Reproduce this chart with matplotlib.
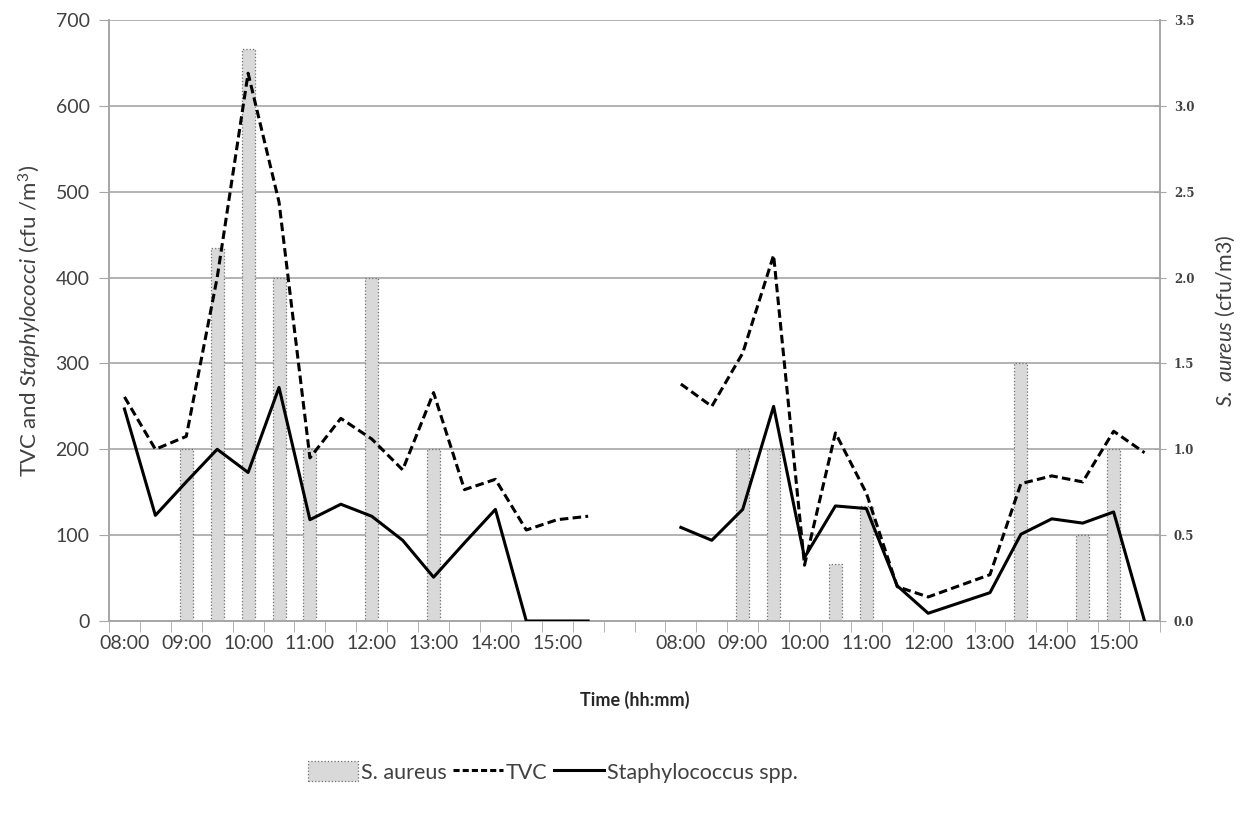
import numpy as np
import matplotlib
matplotlib.use('Agg')
import matplotlib.pyplot as plt
from matplotlib.patches import Patch
from matplotlib.lines import Line2D

# hourly labels, readings every half hour from 08:00 to 15:30 on two days
hours = ['08:00', '09:00', '10:00', '11:00', '12:00', '13:00', '14:00', '15:00']

tvc_day1 = [261, 200, 215, 400, 638, 488, 190, 236, 212, 176, 266, 153, 165, 106, 118, 122]
staph_day1 = [247, 123, 162, 200, 173, 272, 118, 136, 122, 94, 51, 91, 130, 0, 0, 0]
aureus_day1 = [0, 0, 1.0, 2.17, 3.33, 2.0, 1.0, 0, 2.0, 0, 1.0, 0, 0, 0, 0, 0]

tvc_day2 = [276, 250, 312, 426, 65, 219, 149, 40, 28, 41, 54, 160, 169, 162, 221, 196]
staph_day2 = [109, 94, 130, 250, 74, 134, 131, 41, 9, 21, 33, 101, 119, 114, 127, 0]
aureus_day2 = [0, 0, 1.0, 1.0, 0, 0.33, 0.67, 0, 0, 0, 0, 1.5, 0, 0.5, 1.0, 0]

n_gap = 2  # empty slots between the two days
gap = [np.nan] * n_gap
tvc = np.array(tvc_day1 + gap + tvc_day2, dtype=float)
staph = np.array(staph_day1 + gap + staph_day2, dtype=float)
aureus = np.array(aureus_day1 + [0] * n_gap + aureus_day2, dtype=float)
x = np.arange(len(tvc))

plt.rcParams['font.family'] = ['Lato', 'DejaVu Sans']
plt.rcParams['mathtext.fontset'] = 'custom'
plt.rcParams['mathtext.rm'] = 'Lato'
plt.rcParams['mathtext.it'] = 'Lato:italic'

grey = '#404040'
axis_grey = '#a6a6a6'

fig = plt.figure(figsize=(12.5, 8.14), dpi=100)
ax = fig.add_axes([109 / 1250, 1 - 621 / 814, (1160 - 109) / 1250, (621 - 20) / 814])
ax2 = ax.twinx()

# bars on the right axis, kept behind the lines
ax2.bar(x, aureus, width=0.42, color='#d9d9d9', edgecolor='#6f6f6f',
        linewidth=0.9, linestyle=':', zorder=2)
ax2.set_ylim(0, 3.5)
ax2.set_yticks(np.arange(0, 3.51, 0.5))
ax2.set_yticklabels(['%.1f' % v for v in np.arange(0, 3.51, 0.5)],
                    family='DejaVu Serif', fontweight='bold', fontsize=8.5, color=grey)
ax2.yaxis.grid(True, color='#a6a6a6', linewidth=1.2, zorder=0)
ax2.set_axisbelow(True)
ax2.tick_params(axis='y', direction='inout', length=8, color=axis_grey, pad=6)
ax2.set_ylabel('$\\mathit{S.\\ aureus}$ (cfu/m3)', fontsize=15.5, color=grey, labelpad=14)

ax.plot(x, tvc, color='black', linewidth=2.2, linestyle=(0, (2.8, 1.4)), zorder=5)
ax.plot(x, staph, color='black', linewidth=2.2, zorder=5)
ax.set_ylim(0, 700)
ax.set_yticks(range(0, 701, 100))
ax.tick_params(axis='y', labelsize=14, labelcolor=grey, length=7, color=axis_grey, pad=7)
ax.set_ylabel('TVC and $\\mathit{Staphylococci}$ (cfu /m$^{3}$)', fontsize=16, color=grey, labelpad=8)

ax.set_zorder(ax2.get_zorder() + 1)
ax.patch.set_visible(False)

ax.set_xlim(-0.5, len(x) - 0.5)
day2_start = len(tvc_day1) + n_gap
label_pos = [2 * i for i in range(len(hours))] + [day2_start + 2 * i for i in range(len(hours))]
ax.set_xticks(label_pos)
ax.set_xticklabels(hours + hours)
ax.set_xticks(np.arange(len(x) + 1) - 0.5, minor=True)
ax.tick_params(axis='x', which='major', length=0, labelsize=14, labelcolor=grey, pad=10)
ax.tick_params(axis='x', which='minor', length=8, color=axis_grey)
ax.set_xlabel('Time (hh:mm)', fontsize=13, fontweight='bold', color='#262626', labelpad=28)

for a in (ax, ax2):
    a.spines['top'].set_visible(False)
    for s in ('left', 'right', 'bottom'):
        a.spines[s].set_color(axis_grey)
        a.spines[s].set_linewidth(1.2)

handles = [Patch(facecolor='#d9d9d9', edgecolor='#6f6f6f', linestyle=':', linewidth=0.9),
           Line2D([], [], color='black', linewidth=2.2, linestyle=(0, (2.0, 1.0))),
           Line2D([], [], color='black', linewidth=2.2)]
fig.legend(handles, ['S. aureus', 'TVC', 'Staphylococcus spp.'], loc='center',
           bbox_to_anchor=(553 / 1250, 1 - 772 / 814), ncol=3, frameon=False,
           fontsize=15.5, labelcolor=grey, handlelength=2.3, handletextpad=0.15,
           columnspacing=0.3, handleheight=1.0)

fig.savefig('out.png', dpi=100)
